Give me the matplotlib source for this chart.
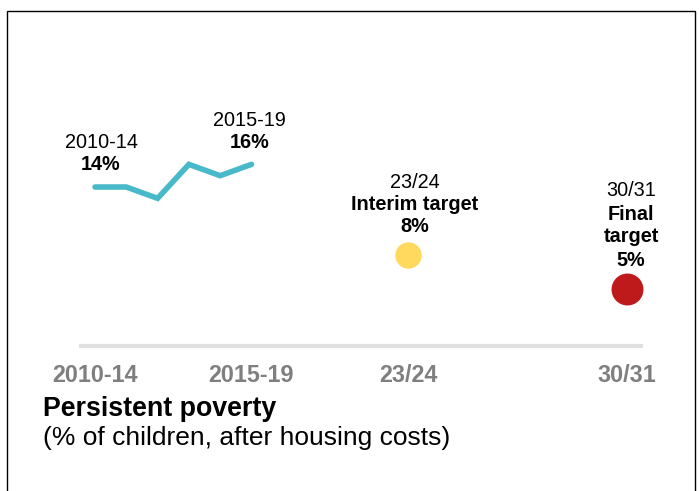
import matplotlib
matplotlib.use("Agg")
import matplotlib.pyplot as plt
from matplotlib.patches import Rectangle

plt.rcParams['font.family'] = ['Liberation Sans', 'DejaVu Sans']

# Data
hist_x = [0, 1, 2, 3, 4, 5]
hist_values = [14, 14, 13, 16, 15, 16]
interim_x, interim_value = 10, 8
final_x, final_value = 17, 5
tick_positions = [0, 5, 10, 17]
tick_labels = ["2010-14", "2015-19", "23/24", "30/31"]

fig = plt.figure(figsize=(6.99, 4.91), dpi=100)
ax = fig.add_axes([0, 0, 1, 1])
ppx = 532 / 17.0
ax.set_xlim(-95 / ppx, (699 - 95) / ppx)
ppy = 11.33
ax.set_ylim(8 - (491 - 255) / ppy, 8 + 255 / ppy)
ax.axis('off')

# frame
fig.patches.append(Rectangle((7 / 699, -0.01), (695 - 7) / 699, (491 - 11) / 491 + 0.01,
                             transform=fig.transFigure, fill=False, edgecolor='black', lw=1.0))

# baseline
ax.plot([-0.5, 17.5], [0, 0], color='#e0e0e0', lw=3.0, solid_capstyle='butt', zorder=1)

ax.plot(hist_x, hist_values, color='#48b9c9', lw=4.0, solid_capstyle='round',
        solid_joinstyle='miter', zorder=3)
ax.plot([interim_x], [interim_value], 'o', color='#fed95e', markersize=19, mec='none', zorder=3)
ax.plot([final_x], [final_value], 'o', color='#bf1a1b', markersize=23, mec='none', zorder=3)

for pos, lab in zip(tick_positions, tick_labels):
    ax.text(pos, -2.6, lab, ha='center', va='center', fontsize=16.8, fontweight='bold',
            color='#7f7f7f')

def tx(x, y, s, bold=False):
    ax.text(x, y, s, ha='center', va='center', fontsize=14.3,
            fontweight='bold' if bold else 'normal', color='black')

ox = 6 / ppx
tx(hist_x[0] + ox, 8 + (255 - 143) / ppy, "2010-14")
tx(hist_x[0] + ox, 8 + (255 - 165) / ppy, f"{hist_values[0]}%", True)
tx(hist_x[-1] - 2 / ppx, 8 + (255 - 121) / ppy, "2015-19")
tx(hist_x[-1] - 2 / ppx, 8 + (255 - 143) / ppy, f"{hist_values[-1]}%", True)
tx(interim_x + 7 / ppx, 8 + (255 - 182) / ppy, "23/24")
tx(interim_x + 7 / ppx, 8 + (255 - 204) / ppy, "Interim target", True)
tx(interim_x + 7 / ppx, 8 + (255 - 227) / ppy, f"{interim_value}%", True)
tx(final_x + 4 / ppx, 8 + (255 - 190) / ppy, "30/31")
tx(final_x + 4 / ppx, 8 + (255 - 214) / ppy, "Final", True)
tx(final_x + 4 / ppx, 8 + (255 - 237) / ppy, "target", True)
tx(final_x + 4 / ppx, 8 + (255 - 260) / ppy, f"{final_value}%", True)

fig.text(43 / 699, 1 - 409 / 491, "Persistent poverty", ha='left', va='center',
         fontsize=19.3, fontweight='bold', color='black')
fig.text(43 / 699, 1 - 438 / 491, "(% of children, after housing costs)", ha='left', va='center',
         fontsize=19, color='black')

fig.savefig("out.png", dpi=100)
